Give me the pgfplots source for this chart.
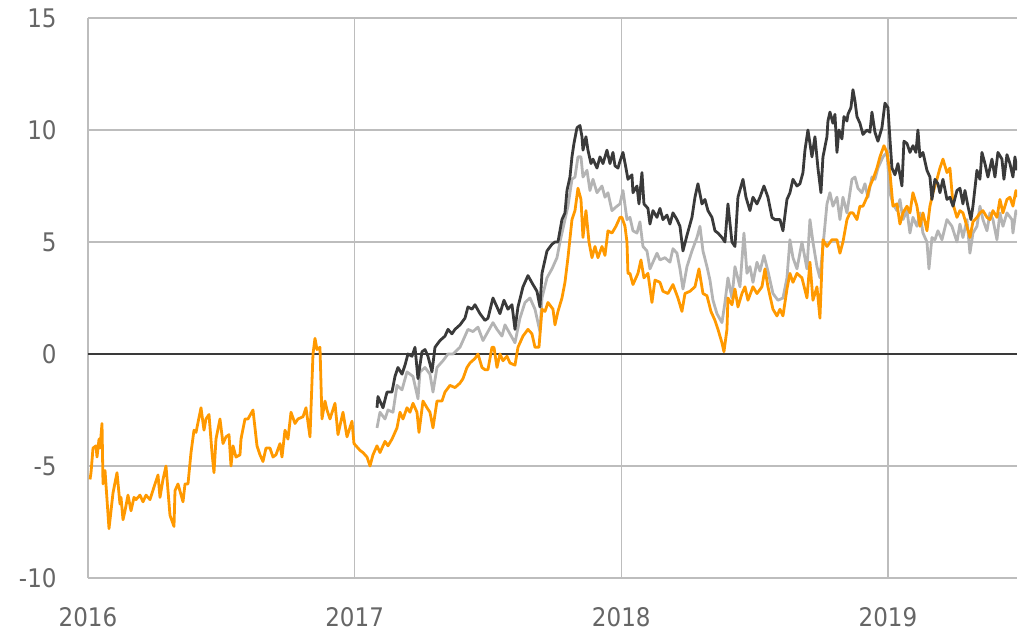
\documentclass[border=0pt]{standalone}
\usepackage{fontspec}
\setmainfont{DejaVu Sans Condensed}
\usepackage{xcolor}
\definecolor{lineorange}{HTML}{FF9900}
\definecolor{linedark}{HTML}{3A3A3A}
\definecolor{linegray}{HTML}{B4B4B4}
\definecolor{gridgray}{HTML}{BDBDBD}
\definecolor{labelgray}{HTML}{666666}
\usepackage{pgfplots}
\pgfplotsset{compat=1.18}

% orange series, whole period
\pgfplotstableread{
x y
2016.0075 -5.6
2016.0113 -5.3
2016.0188 -4.2
2016.0300 -4.1
2016.0338 -4.6
2016.0413 -3.8
2016.0450 -4.2
2016.0525 -3.1
2016.0563 -5.8
2016.0638 -5.2
2016.0788 -7.8
2016.0938 -6.2
2016.1088 -5.3
2016.1200 -6.7
2016.1238 -6.4
2016.1313 -7.4
2016.1388 -7.0
2016.1500 -6.3
2016.1613 -7.0
2016.1725 -6.4
2016.1800 -6.5
2016.1950 -6.3
2016.2063 -6.6
2016.2175 -6.3
2016.2325 -6.5
2016.2513 -5.8
2016.2625 -5.4
2016.2700 -6.4
2016.2813 -5.6
2016.2925 -5.0
2016.3075 -7.2
2016.3225 -7.7
2016.3263 -6.1
2016.3375 -5.8
2016.3563 -6.6
2016.3638 -5.8
2016.3750 -5.8
2016.3863 -4.4
2016.3975 -3.4
2016.4050 -3.5
2016.4238 -2.4
2016.4350 -3.4
2016.4425 -2.9
2016.4538 -2.7
2016.4650 -4.4
2016.4725 -5.3
2016.4800 -3.8
2016.4950 -2.9
2016.5063 -4.0
2016.5175 -3.7
2016.5288 -3.6
2016.5363 -5.0
2016.5438 -4.1
2016.5550 -4.6
2016.5700 -4.5
2016.5738 -3.8
2016.5888 -2.9
2016.6000 -2.9
2016.6188 -2.5
2016.6338 -4.1
2016.6450 -4.5
2016.6563 -4.8
2016.6675 -4.2
2016.6825 -4.2
2016.6938 -4.6
2016.7050 -4.5
2016.7200 -4.0
2016.7275 -4.6
2016.7388 -3.4
2016.7500 -3.8
2016.7613 -2.6
2016.7763 -3.1
2016.7875 -2.9
2016.8063 -2.8
2016.8175 -2.4
2016.8325 -3.7
2016.8438 0.0
2016.8513 0.7
2016.8588 0.2
2016.8700 0.3
2016.8775 -2.9
2016.8888 -2.1
2016.8963 -2.5
2016.9075 -2.9
2016.9263 -2.2
2016.9375 -3.6
2016.9563 -2.6
2016.9713 -3.7
2016.9900 -3.0
2016.9975 -4.0
2017.0200 -4.3
2017.0313 -4.4
2017.0463 -4.6
2017.0575 -5.0
2017.0688 -4.5
2017.0838 -4.1
2017.0950 -4.4
2017.1138 -3.9
2017.1250 -4.1
2017.1400 -3.8
2017.1588 -3.3
2017.1700 -2.6
2017.1813 -2.9
2017.1963 -2.4
2017.2075 -2.6
2017.2188 -2.2
2017.2338 -2.6
2017.2413 -3.5
2017.2563 -2.1
2017.2713 -2.4
2017.2825 -2.6
2017.2938 -3.3
2017.3088 -2.1
2017.3275 -2.1
2017.3388 -1.7
2017.3575 -1.4
2017.3763 -1.5
2017.3950 -1.3
2017.4063 -1.1
2017.4213 -0.6
2017.4325 -0.4
2017.4513 -0.2
2017.4625 0.0
2017.4775 -0.6
2017.4888 -0.7
2017.5000 -0.7
2017.5150 0.3
2017.5225 0.3
2017.5338 -0.6
2017.5450 0.0
2017.5563 -0.3
2017.5713 -0.1
2017.5825 -0.4
2017.6013 -0.5
2017.6125 0.3
2017.6313 0.8
2017.6500 1.1
2017.6650 0.9
2017.6763 0.3
2017.6913 0.3
2017.7025 2.0
2017.7138 1.9
2017.7250 2.3
2017.7438 2.0
2017.7513 1.3
2017.7625 1.9
2017.7775 2.5
2017.7888 3.2
2017.8000 4.3
2017.8150 6.0
2017.8263 6.4
2017.8375 7.4
2017.8488 6.9
2017.8563 5.2
2017.8675 6.4
2017.8788 5.0
2017.8900 4.3
2017.9013 4.8
2017.9125 4.3
2017.9275 4.8
2017.9388 4.4
2017.9500 5.5
2017.9650 5.4
2017.9800 5.7
2017.9950 6.1
2018.0025 6.1
2018.0138 5.7
2018.0213 5.0
2018.0250 3.6
2018.0325 3.6
2018.0438 3.1
2018.0625 3.6
2018.0738 4.2
2018.0850 3.4
2018.1000 3.6
2018.1150 2.3
2018.1263 3.3
2018.1450 3.2
2018.1563 2.8
2018.1750 2.7
2018.1938 3.1
2018.2125 2.5
2018.2275 1.9
2018.2388 2.7
2018.2575 2.8
2018.2763 3.0
2018.2913 3.8
2018.3063 2.7
2018.3213 2.6
2018.3363 1.9
2018.3513 1.5
2018.3625 1.1
2018.3775 0.5
2018.3850 0.1
2018.3963 1.1
2018.4000 2.5
2018.4150 2.2
2018.4263 2.9
2018.4375 2.1
2018.4525 2.7
2018.4638 3.0
2018.4750 2.4
2018.4938 3.0
2018.5088 2.7
2018.5275 3.0
2018.5388 3.8
2018.5500 3.0
2018.5688 2.0
2018.5838 1.7
2018.5950 2.0
2018.6063 1.7
2018.6213 2.9
2018.6325 3.6
2018.6438 3.2
2018.6588 3.6
2018.6775 3.4
2018.6963 2.5
2018.7075 4.1
2018.7188 2.4
2018.7338 3.0
2018.7450 1.6
2018.7563 5.1
2018.7713 4.8
2018.7900 5.1
2018.8088 5.1
2018.8200 4.5
2018.8313 5.0
2018.8463 6.0
2018.8575 6.3
2018.8688 6.3
2018.8838 6.0
2018.8950 6.6
2018.9063 6.6
2018.9213 7.0
2018.9325 7.5
2018.9438 7.8
2018.9588 8.3
2018.9700 8.8
2018.9850 9.3
2018.9963 9.0
2019.0075 8.1
2019.0188 6.6
2019.0338 6.7
2019.0450 5.8
2019.0563 6.3
2019.0713 6.6
2019.0825 6.3
2019.0938 7.2
2019.1088 6.6
2019.1200 5.7
2019.1313 6.3
2019.1463 5.5
2019.1575 6.6
2019.1688 7.2
2019.1838 7.8
2019.1950 8.3
2019.2063 8.7
2019.2213 8.1
2019.2325 8.3
2019.2438 6.7
2019.2588 6.1
2019.2700 6.4
2019.2813 6.3
2019.2963 5.7
2019.3075 5.2
2019.3188 5.9
2019.3338 6.1
2019.3450 6.3
2019.3563 6.4
2019.3713 6.1
2019.3825 6.0
2019.3938 6.4
2019.4088 6.1
2019.4200 6.9
2019.4313 6.3
2019.4463 6.9
2019.4575 7.0
2019.4688 6.6
2019.4800 7.3
2019.4838 7.0
}\orangedata

% dark series, from early 2017
\pgfplotstableread{
x y
2017.0838 -2.4
2017.0875 -1.9
2017.1063 -2.4
2017.1213 -1.7
2017.1400 -1.7
2017.1513 -1.0
2017.1625 -0.6
2017.1775 -0.9
2017.1888 -0.5
2017.2000 0.0
2017.2150 -0.1
2017.2263 0.3
2017.2375 -1.1
2017.2525 0.1
2017.2638 0.2
2017.2750 -0.1
2017.2900 -0.8
2017.3013 0.3
2017.3200 0.6
2017.3388 0.8
2017.3500 1.1
2017.3650 0.9
2017.3763 1.1
2017.3950 1.3
2017.4138 1.6
2017.4250 2.1
2017.4400 2.0
2017.4513 2.2
2017.4700 1.8
2017.4888 1.5
2017.5000 1.6
2017.5188 2.5
2017.5338 2.1
2017.5450 1.8
2017.5600 2.4
2017.5750 2.0
2017.5900 2.2
2017.6013 1.1
2017.6125 2.1
2017.6313 3.0
2017.6500 3.5
2017.6688 3.1
2017.6838 2.8
2017.6950 2.1
2017.7025 3.6
2017.7138 4.2
2017.7213 4.6
2017.7400 4.9
2017.7513 5.0
2017.7625 5.0
2017.7775 6.0
2017.7888 6.3
2017.7963 7.3
2017.8075 7.9
2017.8150 8.8
2017.8225 9.4
2017.8338 10.1
2017.8450 10.2
2017.8525 9.7
2017.8563 9.1
2017.8675 9.7
2017.8750 9.1
2017.8863 8.5
2017.8938 8.7
2017.9088 8.3
2017.9200 8.8
2017.9313 8.5
2017.9463 9.1
2017.9575 8.5
2017.9688 9.0
2017.9763 8.4
2017.9875 8.3
2017.9950 8.6
2018.0063 9.0
2018.0175 8.3
2018.0250 7.8
2018.0400 8.0
2018.0438 7.2
2018.0588 7.5
2018.0663 6.7
2018.0775 8.1
2018.0850 6.7
2018.1000 6.5
2018.1075 5.8
2018.1188 6.4
2018.1338 6.1
2018.1450 6.5
2018.1563 6.0
2018.1713 6.2
2018.1825 5.8
2018.1938 6.3
2018.2088 6.0
2018.2200 5.7
2018.2313 4.6
2018.2463 5.3
2018.2650 6.1
2018.2763 7.0
2018.2875 7.6
2018.3025 6.7
2018.3138 6.9
2018.3250 6.4
2018.3400 6.1
2018.3513 5.5
2018.3625 5.4
2018.3775 5.2
2018.3888 5.0
2018.4000 6.7
2018.4150 5.0
2018.4263 4.8
2018.4375 7.0
2018.4563 7.8
2018.4675 7.0
2018.4825 6.4
2018.4938 7.0
2018.5088 6.7
2018.5200 7.0
2018.5350 7.5
2018.5500 7.0
2018.5650 6.1
2018.5763 6.0
2018.5950 6.0
2018.6063 5.5
2018.6213 6.9
2018.6325 7.2
2018.6438 7.8
2018.6588 7.5
2018.6700 7.6
2018.6813 8.1
2018.6888 9.1
2018.7000 10.0
2018.7150 8.8
2018.7263 9.7
2018.7375 8.3
2018.7488 7.2
2018.7563 8.8
2018.7713 9.7
2018.7750 10.4
2018.7825 10.8
2018.7938 10.3
2018.8013 10.7
2018.8088 9.0
2018.8163 10.0
2018.8275 9.6
2018.8350 10.6
2018.8463 10.4
2018.8500 10.7
2018.8613 11.0
2018.8688 11.8
2018.8763 11.3
2018.8838 10.6
2018.8950 10.3
2018.9063 9.8
2018.9213 10.0
2018.9325 9.9
2018.9400 10.8
2018.9513 9.9
2018.9625 9.5
2018.9775 10.1
2018.9888 11.2
2019.0000 11.0
2019.0075 9.6
2019.0150 8.3
2019.0263 8.0
2019.0375 8.5
2019.0525 7.5
2019.0600 9.5
2019.0713 9.4
2019.0825 9.0
2019.0938 9.3
2019.1050 9.0
2019.1125 10.0
2019.1200 8.8
2019.1313 9.0
2019.1463 8.2
2019.1575 7.9
2019.1650 6.9
2019.1763 7.8
2019.1875 7.6
2019.1950 7.2
2019.2063 7.8
2019.2213 6.9
2019.2325 7.0
2019.2438 6.6
2019.2588 7.3
2019.2700 7.4
2019.2813 6.7
2019.2888 7.3
2019.3000 6.6
2019.3113 6.0
2019.3188 6.6
2019.3338 8.2
2019.3450 7.8
2019.3525 9.0
2019.3638 8.5
2019.3750 7.9
2019.3900 8.7
2019.4013 7.9
2019.4125 9.0
2019.4275 8.7
2019.4350 7.8
2019.4463 8.9
2019.4575 8.5
2019.4688 7.9
2019.4763 8.8
2019.4838 8.2
}\darkdata

% light grey series, from early 2017
\pgfplotstableread{
x y
2017.0838 -3.3
2017.0950 -2.6
2017.1138 -2.9
2017.1250 -2.5
2017.1438 -2.6
2017.1588 -1.4
2017.1775 -1.6
2017.1963 -0.8
2017.2188 -1.0
2017.2375 -2.0
2017.2450 -0.8
2017.2638 -0.6
2017.2825 -0.9
2017.2938 -1.7
2017.3088 -0.6
2017.3313 -0.3
2017.3500 0.0
2017.3688 0.0
2017.3950 0.3
2017.4138 0.8
2017.4250 1.1
2017.4438 1.0
2017.4625 1.2
2017.4813 0.6
2017.5000 1.0
2017.5188 1.4
2017.5338 1.1
2017.5525 0.8
2017.5638 1.3
2017.5825 0.9
2017.6013 0.5
2017.6200 1.6
2017.6388 2.3
2017.6575 2.5
2017.6763 2.0
2017.6950 1.0
2017.7025 2.5
2017.7213 3.4
2017.7400 3.8
2017.7588 4.3
2017.7700 5.0
2017.7888 6.0
2017.8000 6.6
2017.8150 7.8
2017.8263 7.9
2017.8375 8.8
2017.8488 8.8
2017.8563 7.9
2017.8713 8.2
2017.8825 7.3
2017.8938 7.8
2017.9088 7.2
2017.9275 7.5
2017.9388 7.0
2017.9500 7.2
2017.9650 6.4
2017.9838 6.6
2017.9950 6.7
2018.0063 7.3
2018.0213 6.0
2018.0325 6.1
2018.0438 5.5
2018.0588 5.4
2018.0700 5.9
2018.0813 4.8
2018.0963 4.6
2018.1075 3.8
2018.1188 4.1
2018.1338 4.5
2018.1450 4.2
2018.1638 4.3
2018.1825 4.1
2018.1938 4.7
2018.2088 4.5
2018.2200 3.8
2018.2313 2.9
2018.2463 3.9
2018.2650 4.6
2018.2838 5.2
2018.2950 5.7
2018.3063 4.6
2018.3213 3.9
2018.3325 3.3
2018.3438 2.4
2018.3588 1.8
2018.3775 1.4
2018.3888 2.3
2018.4000 3.4
2018.4150 2.5
2018.4263 3.9
2018.4450 3.0
2018.4600 5.4
2018.4713 3.6
2018.4825 3.9
2018.4938 3.2
2018.5088 4.1
2018.5200 3.7
2018.5350 4.4
2018.5500 3.7
2018.5688 2.7
2018.5875 2.4
2018.6063 2.5
2018.6213 3.4
2018.6325 5.1
2018.6438 4.3
2018.6588 3.8
2018.6775 5.0
2018.6963 3.8
2018.7075 6.0
2018.7188 5.0
2018.7338 3.9
2018.7450 3.4
2018.7563 4.8
2018.7713 6.7
2018.7825 7.2
2018.7938 6.6
2018.8088 7.0
2018.8200 6.0
2018.8313 7.0
2018.8463 6.3
2018.8650 7.8
2018.8763 7.9
2018.8875 7.4
2018.9025 7.2
2018.9138 7.6
2018.9250 7.0
2018.9400 7.9
2018.9513 7.8
2018.9625 8.3
2018.9813 8.8
2018.9963 9.0
2019.0075 7.2
2019.0188 6.7
2019.0338 6.4
2019.0450 6.9
2019.0563 6.0
2019.0713 6.4
2019.0825 5.4
2019.0938 6.1
2019.1088 5.7
2019.1200 6.3
2019.1313 5.4
2019.1463 5.0
2019.1538 3.8
2019.1650 5.2
2019.1763 5.1
2019.1875 5.5
2019.2025 5.1
2019.2213 6.0
2019.2400 5.7
2019.2588 5.0
2019.2700 5.8
2019.2813 5.2
2019.2963 6.0
2019.3075 4.5
2019.3188 5.4
2019.3338 5.7
2019.3450 6.6
2019.3563 6.0
2019.3713 5.5
2019.3825 6.3
2019.3938 6.0
2019.4088 5.1
2019.4200 6.3
2019.4313 5.7
2019.4463 6.3
2019.4650 6.0
2019.4688 5.4
2019.4800 6.4
2019.4838 6.2
}\graydata

\begin{document}
\begin{tikzpicture}
\begin{axis}[
  scale only axis,
  width=464.5pt, height=280pt,
  xmin=2016, xmax=2019.484,
  ymin=-10, ymax=15,
  xtick={2016,2017,2018,2019},
  xticklabels={2016,2017,2018,2019},
  ytick={-10,-5,0,5,10,15},
  yticklabels={-10,-5,0,5,10,15},
  extra y ticks={0},
  extra y tick labels={},
  extra y tick style={grid style={color=linedark, line width=1pt}},
  grid=major,
  grid style={color=gridgray, line width=0.75pt},
  major tick length=0pt,
  axis x line*=bottom,
  axis y line*=left,
  axis line style={color=gridgray, line width=0.75pt},
  tick label style={font=\fontsize{12.8}{15}\selectfont, color=labelgray},
  yticklabel style={anchor=east, inner sep=0pt, xshift=-15.5pt},
  xticklabel style={anchor=north, inner sep=0pt, yshift=-14.5pt},
  every axis plot/.append style={line width=1.4pt, line join=round, mark=none},
  clip=true,
]
\addplot[color=linegray] table[x=x, y=y] {\graydata};
\addplot[color=lineorange] table[x=x, y=y] {\orangedata};
\addplot[color=linedark] table[x=x, y=y] {\darkdata};
\end{axis}
\path (current axis.south west) ++(-44pt,-27.5pt);
\path (current axis.north east) ++(4pt,9pt);
\end{tikzpicture}
\end{document}
